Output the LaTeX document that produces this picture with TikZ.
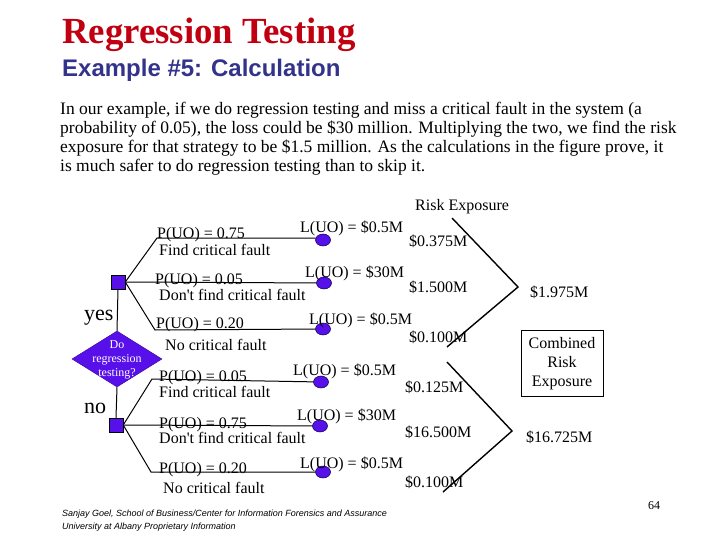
\documentclass[tikz,border=0pt]{standalone}
\usepackage{fontspec}
\setmainfont{Liberation Serif}
\newfontfamily\arialf{Liberation Sans}
\usetikzlibrary{shapes.geometric}
\definecolor{titlered}{RGB}{192,0,16}
\definecolor{subblue}{RGB}{51,51,140}
\definecolor{purp}{RGB}{88,16,235}
\begin{document}
\begin{tikzpicture}[x=1pt,y=-1pt,
  lbl/.style={anchor=base west, inner sep=0, font=\fontsize{16}{19}\selectfont},
  plbl/.style={anchor=base west, inner sep=0, font=\fontsize{17.5}{19}\selectfont},
  flbl/.style={anchor=base west, inner sep=0, font=\arialf\itshape\fontsize{9}{12}\selectfont},
  dlbl/.style={anchor=base, inner sep=0, text=white, font=\fontsize{12}{14}\selectfont},
  blbl/.style={anchor=base, inner sep=0, font=\fontsize{16}{19}\selectfont},
  conn/.style={line width=1pt},
  brk/.style={line width=1.4pt},
  sq/.style={draw=black, line width=0.5pt, fill=purp, minimum size=14pt, inner sep=0},
  leaf/.style={ellipse, draw=black!70!blue, line width=0.5pt, fill=purp, minimum width=15pt, minimum height=12pt, inner sep=0},
]
\useasboundingbox (0,0) rectangle (720,540);

% title
\node[anchor=base west, inner sep=0, text=titlered, font=\fontsize{36.8}{40}\selectfont\bfseries] (title) at (62,44) {Regression Testing};
\node[anchor=base west, inner sep=0, text=subblue, font=\arialf\fontsize{24}{28}\selectfont\bfseries] (sub) at (62,77) {Example \#5: Calculation};

% paragraph
\node[plbl] (para1) at (60,115) {In our example, if we do regression testing and miss a critical fault in the system (a};
\node[plbl] (para2) at (60,134) {probability of 0.05), the loss could be \$30 million. Multiplying the two, we find the risk};
\node[plbl] (para3) at (60,153) {exposure for that strategy to be \$1.5 million. As the calculations in the figure prove, it};
\node[plbl] (para4) at (60,172) {is much safer to do regression testing than to skip it.};

% decision nodes
\node[sq] (ys) at (118,282) {};
\node[sq] (ns) at (116,425) {};
\node[diamond, fill=purp, draw=purp!70!black, line width=0.5pt, minimum width=90pt, minimum height=56pt, inner sep=0, aspect=1.6] (dm) at (117,359) {};
\node[dlbl] (dmt1) at (117,348) {Do};
\node[dlbl] (dmt2) at (117,362) {regression};
\node[dlbl] (dmt3) at (117,376) {testing?};
\draw[conn] (ys.south) -- (dm.north);
\draw[conn] (dm.south) -- (ns.north);
\node[anchor=base west, inner sep=0, font=\fontsize{22}{24}\selectfont] (yes) at (84,320) {yes};
\node[anchor=base west, inner sep=0, font=\fontsize{22}{24}\selectfont] (no) at (84,413) {no};

% upper leaves
\node[leaf] (a1) at (323,240) {};
\node[leaf] (a2) at (324,283) {};
\node[leaf] (a3) at (323,329) {};
\coordinate (ua) at (157,238);
\coordinate (uc) at (155,330);
\draw[conn] (ys.east) -- (ua) -- (a1.west |- ua) -- (a1);
\draw[conn] (ys.east) -- (a2);
\draw[conn] (ys.east) -- (uc) -- (a3);

% lower leaves
\node[leaf] (b1) at (321,382) {};
\node[leaf] (b2) at (320,426) {};
\node[leaf] (b3) at (323,472) {};
\coordinate (la) at (152,379);
\coordinate (lc) at (151,472);
\draw[conn] (ns.east) -- (la) -- (b1);
\draw[conn] (ns.east) -- (b2);
\draw[conn] (ns.east) -- (lc) -- (b3);

% upper labels
\node[lbl] (p1) at (157,238) {P(UO) = 0.75};
\node[lbl] (f1) at (159,255) {Find critical fault};
\node[lbl] (p2) at (155,284) {P(UO) = 0.05};
\node[lbl] (f2) at (159,300) {Don\textquotesingle t find critical fault};
\node[lbl] (p3) at (156,328) {P(UO) = 0.20};
\node[lbl] (f3) at (165,350) {No critical fault};
\node[lbl] (l1) at (300,233) {L(UO) = \$0.5M};
\node[lbl] (l2) at (305,277) {L(UO) = \$30M};
\node[lbl] (l3) at (309,324) {L(UO) = \$0.5M};
\node[lbl] (r1) at (409,247) {\$0.375M};
\node[lbl] (r2) at (409,292) {\$1.500M};
\node[lbl] (r3) at (409,342) {\$0.100M};
\node[lbl] (rex) at (415,211) {Risk Exposure};

% lower labels
\node[lbl] (q1) at (159,381) {P(UO) = 0.05};
\node[lbl] (g1) at (159,397) {Find critical fault};
\node[lbl] (q2) at (159,428) {P(UO) = 0.75};
\node[lbl] (g2) at (159,443) {Don\textquotesingle t find critical fault};
\node[lbl] (q3) at (159,473) {P(UO) = 0.20};
\node[lbl] (g3) at (163,493) {No critical fault};
\node[lbl] (m1) at (293,375) {L(UO) = \$0.5M};
\node[lbl] (m2) at (297,420) {L(UO) = \$30M};
\node[lbl] (m3) at (300,468) {L(UO) = \$0.5M};
\node[lbl] (s1) at (405,392) {\$0.125M};
\node[lbl] (s2) at (405,437) {\$16.500M};
\node[lbl] (s3) at (405,487) {\$0.100M};

% brackets
\coordinate (t1) at (452,218); \coordinate (k1) at (518,287); \coordinate (e1) at (447,347);
\draw[brk] (t1) -- (k1) -- (e1);
\coordinate (t2) at (447,362); \coordinate (k2) at (512,431); \coordinate (e2) at (443,492);
\draw[brk] (t2) -- (k2) -- (e2);
\node[lbl] (tot1) at (530,297) {\$1.975M};
\node[lbl] (tot2) at (526,442) {\$16.725M};

% combined box
\node[draw, line width=0.8pt, minimum width=82pt, minimum height=66pt, inner sep=0] (box) at (562,363) {};
\node[blbl] (boxt1) at (562,348) {Combined};
\node[blbl] (boxt2) at (562,367) {Risk};
\node[blbl] (boxt3) at (562,386) {Exposure};

% footer
\node[flbl] (foot1) at (62,516) {Sanjay Goel, School of Business/Center for Information Forensics and Assurance};
\node[flbl] (foot2) at (62,529) {University at Albany Proprietary Information};
\node[anchor=base west, inner sep=0, font=\fontsize{12}{14}\selectfont] (pg) at (648,509) {64};
\end{tikzpicture}
\end{document}
